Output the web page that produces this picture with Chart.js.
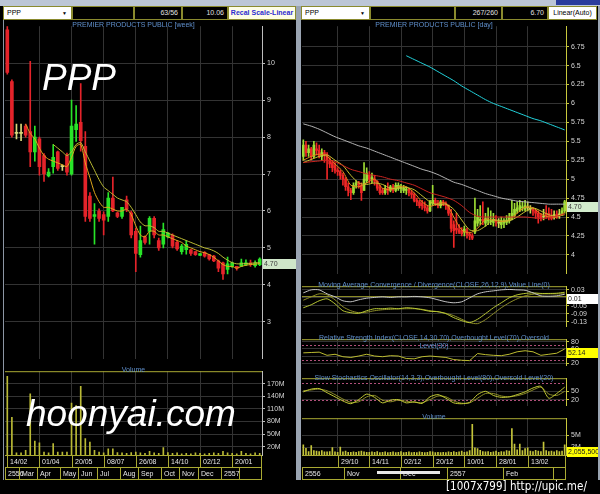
<!DOCTYPE html>
<html>
<head>
<meta charset="utf-8">
<script src="https://cdn.jsdelivr.net/npm/chart.js@4.4.1/dist/chart.umd.min.js"></script>
<style>
  html, body { margin: 0; padding: 0; background: #000; }
  #wrap { position: relative; width: 600px; height: 494px; background: #000; overflow: hidden; font-family: "Liberation Sans", Arial, sans-serif; }
  #wrap canvas { position: absolute; }
  .abs { position: absolute; }
  .hb { position: absolute; top: 6px; height: 14px; box-sizing: border-box; border: 1px solid #8a8a2e; font-size: 7px; line-height: 12px; padding: 0 3px; color: #e0e0e0; background: #000; white-space: nowrap; overflow: hidden; }
  .ttl { position: absolute; color: #5f8fcc; font-size: 7px; text-align: center; white-space: nowrap; }
</style>
</head>
<body>
<div id="wrap">
  <div class="abs" style="left:0;top:0;width:600px;height:6px;background:#bcc6d6"></div>
  <div class="abs" style="left:556px;top:0;width:44px;height:5px;background:#2a3c9c"></div>

  <div class="hb" style="left:3px;width:69px;background:#fff;color:#000">PPP<span style="position:absolute;right:4px;font-size:5px">&#9660;</span></div>
  <div class="hb" style="left:72px;width:62px"></div>
  <div class="hb" style="left:134px;width:48px;text-align:right">63/56</div>
  <div class="hb" style="left:182px;width:46px;text-align:right">10.06</div>
  <div class="hb" style="left:228px;width:68px;background:#fdfde6;color:#2b2bd0;font-weight:bold;text-align:center;padding:0">Recal Scale-Linear</div>

  <div class="hb" style="left:301px;width:69px;background:#fff;color:#000">PPP<span style="position:absolute;right:4px;font-size:5px">&#9660;</span></div>
  <div class="hb" style="left:370px;width:85px"></div>
  <div class="hb" style="left:455px;width:47px;text-align:right">267/260</div>
  <div class="hb" style="left:502px;width:46px;text-align:right">6.70</div>
  <div class="hb" style="left:548px;width:49px;background:#fff;color:#000;text-align:center;padding:0">Linear(Auto)</div>

  <div class="abs" style="left:3px;top:20px;width:1px;height:460px;background:#8c96a4"></div>
  <div class="abs" style="left:296px;top:6px;width:5px;height:474px;background:#9aa4b2"></div>
  <div class="abs" style="left:598px;top:6px;width:2px;height:474px;background:#9aa4b2"></div>

  <canvas id="lp" width="291" height="345" style="left:5px;top:20px"></canvas>
  <canvas id="lv" width="291" height="116" style="left:5px;top:365px"></canvas>
  <canvas id="rp" width="296" height="260" style="left:302px;top:20px"></canvas>
  <canvas id="rm" width="296" height="53" style="left:302px;top:280px"></canvas>
  <canvas id="rr" width="296" height="39" style="left:302px;top:333px"></canvas>
  <canvas id="rs" width="296" height="40" style="left:302px;top:372px"></canvas>
  <canvas id="rv" width="296" height="69" style="left:302px;top:412px"></canvas>

  <div class="ttl" style="left:5px;top:21px;width:257px">PREMIER PRODUCTS PUBLIC [week]</div>
  <div class="ttl" style="left:5px;top:366px;width:257px">Volume</div>
  <div class="ttl" style="left:302px;top:21px;width:264px">PREMIER PRODUCTS PUBLIC [day]</div>
  <div class="ttl" style="left:302px;top:281px;width:264px">Moving Average Convergence / Divergence(CLOSE,26,12,9),Value Line(0)</div>
  <div class="ttl" style="left:302px;top:334px;width:264px;line-height:8px">Relative Strength Index(CLOSE,14,30,70),Overbought Level(70),Oversold<br>Level(30)</div>
  <div class="ttl" style="left:302px;top:374px;width:264px">Slow Stochastics Oscillator(14,3,3),Overbought Level(80),Oversold Level(20)</div>
  <div class="ttl" style="left:302px;top:413px;width:264px">Volume</div>

  <div class="abs" style="left:42px;top:58px;color:#fff;font-size:37px;font-style:italic;line-height:40px">PPP</div>
  <div class="abs" style="left:26px;top:392px;color:#fff;font-size:37px;font-style:italic;line-height:44px">hoonyai.com</div>

  <div class="abs" style="left:377px;top:471px;width:63px;height:3px;background:#e8e8e8"></div>
  <div class="abs" style="left:446px;top:478px;color:#fff;font-family:'DejaVu Sans';font-size:13px;white-space:nowrap;transform:scaleX(0.8);transform-origin:left top">[1007x799] http://upic.me/</div>
</div>

<script>
// ---- weekly (left panel) ----
const wOpen  = [10.9, 9.5, 8.1, 8.1, 8.3, 8.15, 7.6, 7.95, 7.5, 6.95,
                7.2, 7.6, 7.2, 7.5, 7.0, 8.2, 8.4, 7.75, 6.4, 5.85,
                6.0, 5.9, 5.85, 6.35, 5.95, 5.85, 6.3, 5.95, 5.45, 4.82,
                5.3, 5.45, 5.8, 5.2, 5.1, 5.3, 5.35, 5.15, 4.9, 4.95,
                4.95, 4.9, 4.8, 4.88, 4.82, 4.78, 4.65, 4.6, 4.42, 4.5,
                4.5, 4.5, 4.55, 4.6, 4.52, 4.55];
const wHigh  = [11.0, 9.55, 8.35, 8.35, 8.35, 10.05, 8.3, 8.0, 7.55, 7.15,
                7.8, 7.62, 7.25, 7.57, 9.0, 8.85, 9.45, 8.15, 6.5, 6.2,
                6.06, 5.98, 6.5, 6.92, 5.97, 6.1, 6.4, 6.0, 5.53, 5.59,
                5.33, 5.85, 5.85, 5.27, 5.67, 5.42, 5.38, 5.2, 5.1, 5.2,
                4.96, 4.9, 4.85, 4.9, 4.83, 4.8, 4.67, 4.62, 4.75, 4.62,
                4.5, 4.7, 4.68, 4.67, 4.65, 4.73];
const wLow   = [9.7, 8.0, 7.95, 7.9, 8.0, 7.2, 7.35, 6.97, 6.8, 6.92,
                7.02, 7.1, 7.1, 6.97, 6.97, 7.88, 7.62, 5.72, 5.72, 5.1,
                5.72, 5.35, 5.72, 5.98, 5.82, 5.8, 5.98, 5.27, 4.36, 4.75,
                5.1, 5.1, 5.27, 4.93, 5.0, 5.27, 5.0, 4.93, 4.83, 4.83,
                4.8, 4.8, 4.8, 4.75, 4.67, 4.63, 4.36, 4.15, 4.3, 4.47,
                4.4, 4.5, 4.52, 4.5, 4.48, 4.52];
const wClose = [9.75, 8.05, 8.1, 8.1, 8.05, 7.6, 8.0, 7.2, 7.0, 7.05,
                7.45, 7.15, 7.2, 7.05, 8.3, 8.35, 7.9, 5.85, 5.8, 5.9,
                5.8, 5.75, 6.35, 6.0, 5.85, 6.1, 6.05, 5.35, 4.85, 5.2,
                5.15, 5.8, 5.35, 5.0, 5.5, 5.4, 5.05, 4.97, 5.05, 5.1,
                4.85, 4.82, 4.85, 4.78, 4.7, 4.65, 4.45, 4.3, 4.57, 4.6,
                4.45, 4.6, 4.6, 4.55, 4.58, 4.7];
const wMaFast = [null, null, null, null, 8.35, 8.1, 7.95, 7.7, 7.5, 7.4,
                 7.35, 7.3, 7.25, 7.2, 7.45, 7.75, 7.8, 7.3, 6.9, 6.5,
                 6.25, 6.1, 6.1, 6.05, 6.0, 6.0, 6.05, 5.9, 5.6, 5.35,
                 5.3, 5.45, 5.45, 5.35, 5.35, 5.3, 5.25, 5.2, 5.15, 5.05,
                 5.0, 4.95, 4.9, 4.87, 4.82, 4.75, 4.65, 4.55, 4.5, 4.5,
                 4.45, 4.5, 4.53, 4.55, 4.56, 4.58];
const wMaSlow = [null, null, null, null, null, null, null, null, null, null,
                 7.8, 7.7, 7.6, 7.5, 7.6, 7.8, 7.85, 7.6, 7.35, 7.1,
                 6.85, 6.65, 6.55, 6.45, 6.35, 6.3, 6.25, 6.1, 5.9, 5.7,
                 5.6, 5.6, 5.55, 5.45, 5.45, 5.4, 5.35, 5.3, 5.25, 5.2,
                 5.15, 5.1, 5.05, 5.0, 4.97, 4.92, 4.85, 4.75, 4.67, 4.6,
                 4.57, 4.57, 4.58, 4.58, 4.6, 4.6];
const wVol = [188, 90, 5, 5, 11, 146, 33, 29, 7, 5,
              27, 7, 7, 7, 124, 118, 164, 39, 31, 11,
              7, 5, 15, 15, 6, 5, 4, 6, 7, 5,
              4, 9, 5, 4, 18, 6, 4, 5, 3, 4,
              3, 5, 4, 3, 4, 5, 4, 9, 5, 4,
              3, 9, 4, 3, 5, 4];
const wDateIdx = [0, 7, 14, 21, 28, 35, 42, 49];
const wDateLbl = ['14/02', '01/04', '20/05', '08/07', '26/08', '14/10', '02/12', '20/01'];
const wMonIdx = [0, 3, 7, 12, 16, 20, 25, 29, 34, 38, 42, 47, 51];
const wMonLbl = ['2556', 'Mar', 'Apr', 'May', 'Jun', 'Jul', 'Aug', 'Sep', 'Oct', 'Nov', 'Dec', '2557', ''];
const wPriceTicks = [3, 4, 5, 6, 7, 8, 9, 10];
const wVolTicks = [20, 50, 80, 110, 140, 170];

// ---- daily (right panel) ----
const dOpen  = [5.30, 5.45, 5.35, 5.40, 5.30, 5.40, 5.38, 5.30, 5.35, 5.32,
                5.25, 5.22, 5.18, 5.12, 5.10, 5.05, 5.00, 4.90, 4.85, 4.82,
                4.92, 4.95, 4.92, 4.85, 4.98, 5.05, 5.00, 5.00, 4.97, 4.90,
                4.85, 4.82, 4.88, 4.85, 4.90, 4.85, 4.88, 4.88, 4.85, 4.85,
                4.87, 4.82, 4.80, 4.72, 4.70, 4.68, 4.65, 4.62, 4.58, 4.68,
                4.72, 4.68, 4.65, 4.70, 4.68, 4.65, 4.55, 4.40, 4.35, 4.33,
                4.32, 4.30, 4.32, 4.27, 4.25, 4.30, 4.42, 4.45, 4.47, 4.42,
                4.45, 4.44, 4.43, 4.45, 4.42, 4.40, 4.42, 4.43, 4.45, 4.48,
                4.52, 4.58, 4.60, 4.62, 4.60, 4.62, 4.60, 4.60, 4.58, 4.55,
                4.52, 4.50, 4.55, 4.55, 4.52, 4.52, 4.54, 4.53, 4.55, 4.58];
const dHigh  = [5.52, 5.50, 5.45, 5.42, 5.50, 5.48, 5.45, 5.40, 5.38, 5.35,
                5.28, 5.25, 5.22, 5.15, 5.12, 5.08, 5.02, 4.95, 4.88, 4.95,
                4.98, 4.97, 4.95, 5.22, 5.15, 5.10, 5.08, 5.05, 4.98, 4.92,
                4.88, 4.92, 4.95, 4.92, 4.93, 4.95, 4.95, 4.93, 4.92, 4.90,
                4.88, 4.85, 4.82, 4.75, 4.72, 4.72, 4.70, 4.65, 4.72, 4.92,
                4.75, 4.72, 4.72, 4.72, 4.70, 4.66, 4.60, 4.45, 4.55, 4.40,
                4.36, 4.38, 4.35, 4.30, 4.28, 4.75, 4.60, 4.65, 4.70, 4.55,
                4.62, 4.58, 4.55, 4.52, 4.48, 4.50, 4.48, 4.52, 4.55, 4.72,
                4.68, 4.70, 4.72, 4.70, 4.72, 4.70, 4.65, 4.62, 4.60, 4.58,
                4.55, 4.60, 4.65, 4.62, 4.60, 4.58, 4.58, 4.60, 4.62, 4.72];
const dLow   = [5.25, 5.30, 5.30, 5.25, 5.28, 5.32, 5.28, 5.25, 5.22, 5.00,
                5.15, 5.10, 5.08, 5.05, 5.00, 4.92, 4.85, 4.78, 4.73, 4.80,
                4.88, 4.88, 4.72, 4.85, 4.95, 4.95, 4.95, 4.92, 4.85, 4.80,
                4.80, 4.80, 4.80, 4.83, 4.82, 4.83, 4.85, 4.82, 4.82, 4.80,
                4.78, 4.75, 4.70, 4.65, 4.62, 4.60, 4.58, 4.55, 4.57, 4.65,
                4.65, 4.62, 4.62, 4.65, 4.60, 4.52, 4.30, 4.10, 4.28, 4.28,
                4.25, 4.25, 4.22, 4.20, 4.20, 4.28, 4.38, 4.40, 4.40, 4.38,
                4.40, 4.40, 4.38, 4.38, 4.36, 4.35, 4.36, 4.40, 4.42, 4.46,
                4.50, 4.55, 4.57, 4.58, 4.58, 4.58, 4.55, 4.52, 4.48, 4.42,
                4.45, 4.46, 4.48, 4.46, 4.46, 4.47, 4.48, 4.48, 4.52, 4.55];
const dClose = [5.45, 5.35, 5.40, 5.30, 5.45, 5.38, 5.30, 5.35, 5.32, 5.25,
                5.20, 5.15, 5.12, 5.10, 5.05, 5.00, 4.90, 4.85, 4.82, 4.92,
                4.95, 4.92, 4.82, 5.00, 5.08, 5.00, 5.02, 4.97, 4.88, 4.82,
                4.82, 4.88, 4.85, 4.90, 4.85, 4.92, 4.92, 4.90, 4.88, 4.87,
                4.82, 4.80, 4.72, 4.70, 4.65, 4.65, 4.62, 4.58, 4.70, 4.72,
                4.68, 4.65, 4.70, 4.68, 4.65, 4.55, 4.35, 4.32, 4.33, 4.30,
                4.28, 4.34, 4.27, 4.25, 4.22, 4.45, 4.50, 4.47, 4.45, 4.48,
                4.46, 4.45, 4.47, 4.44, 4.42, 4.43, 4.45, 4.46, 4.50, 4.55,
                4.60, 4.62, 4.65, 4.63, 4.65, 4.62, 4.60, 4.58, 4.55, 4.50,
                4.48, 4.50, 4.52, 4.50, 4.48, 4.52, 4.50, 4.53, 4.58, 4.70];
const dVol = [2.6, 1.7, 0.9, 2.4, 1.1, 1.0, 0.9, 1.1, 0.8, 0.8,
              0.9, 1.9, 0.8, 0.7, 2.0, 0.8, 1.0, 0.7, 0.7, 0.8,
              0.7, 0.9, 1.0, 0.8, 0.7, 0.7, 0.8, 0.7, 0.9, 0.6,
              0.7, 0.8, 0.6, 0.7, 0.8, 0.6, 0.7, 0.9, 0.6, 0.7,
              0.8, 0.6, 0.7, 0.6, 0.8, 0.7, 0.6, 0.7, 0.9, 0.8,
              0.6, 0.7, 0.6, 0.7, 0.6, 0.8, 0.7, 0.9, 0.7, 0.8,
              1.0, 0.7, 0.8, 1.1, 7.8, 1.8, 1.6, 1.2, 0.9, 0.8,
              0.9, 0.7, 0.8, 1.0, 0.7, 0.9, 0.8, 1.1, 1.0, 6.7,
              2.8, 1.3, 2.8, 1.1, 1.6, 1.8, 1.0, 0.9, 1.2, 1.0,
              0.9, 3.3, 1.1, 0.9, 1.0, 0.8, 1.1, 0.9, 1.0, 2.6];

// indicator lines read every 3rd day
const dIdx = [0, 3, 6, 9, 12, 15, 18, 21, 24, 27, 30, 33, 36, 39, 42, 45, 48,
              51, 54, 57, 60, 63, 66, 69, 72, 75, 78, 81, 84, 87, 90, 93, 96, 99];
const dMa5   = [5.25, 5.3, 5.33, 5.3, 5.2, 5.1, 4.92, 4.9, 4.95, 5.0, 4.88, 4.86, 4.9, 4.9, 4.82, 4.7, 4.64,
                4.68, 4.68, 4.5, 4.33, 4.29, 4.35, 4.47, 4.46, 4.44, 4.46, 4.55, 4.63, 4.62, 4.54, 4.5, 4.5, 4.56];
const dMa10  = [5.22, 5.26, 5.3, 5.32, 5.25, 5.18, 5.05, 4.95, 4.93, 4.95, 4.93, 4.88, 4.88, 4.89, 4.86, 4.78, 4.7,
                4.66, 4.67, 4.6, 4.46, 4.33, 4.32, 4.38, 4.46, 4.45, 4.45, 4.5, 4.57, 4.62, 4.58, 4.53, 4.51, 4.53];
const dMa25  = [5.22, 5.23, 5.24, 5.25, 5.23, 5.18, 5.13, 5.1, 5.07, 5.05, 5.03, 5.0, 4.98, 4.95, 4.92, 4.87, 4.82,
                4.79, 4.76, 4.72, 4.65, 4.56, 4.51, 4.5, 4.5, 4.5, 4.5, 4.5, 4.5, 4.49, 4.48, 4.49, 4.51, 4.54];
const dMa75  = [5.73, 5.7, 5.66, 5.61, 5.56, 5.52, 5.48, 5.44, 5.41, 5.37, 5.33, 5.29, 5.25, 5.21, 5.17, 5.13, 5.1,
                5.06, 5.01, 4.96, 4.93, 4.89, 4.85, 4.81, 4.78, 4.75, 4.73, 4.71, 4.7, 4.69, 4.68, 4.67, 4.67, 4.67];
const dMa200 = [null, null, null, null, null, null, null, null, null, null, null, null, null, 6.63, 6.58, 6.53, 6.48,
                6.42, 6.36, 6.3, 6.23, 6.17, 6.11, 6.05, 6.0, 5.96, 5.92, 5.88, 5.84, 5.8, 5.77, 5.73, 5.69, 5.65];
const macdA  = [-0.06, -0.045, -0.025, -0.015, -0.04, -0.075, -0.085, -0.088, -0.075, -0.065, -0.065, -0.062, -0.065, -0.06, -0.063, -0.07, -0.078,
                -0.08, -0.09, -0.11, -0.125, -0.135, -0.118, -0.09, -0.06, -0.035, -0.01, 0.005, 0.012, 0.015, 0.012, 0.012, 0.013, 0.018];
const macdB  = [-0.022, -0.005, 0.01, 0.005, -0.02, -0.055, -0.075, -0.085, -0.082, -0.075, -0.07, -0.068, -0.066, -0.065, -0.065, -0.068, -0.075,
                -0.08, -0.088, -0.1, -0.118, -0.135, -0.14, -0.12, -0.09, -0.06, -0.035, -0.015, 0.0, 0.008, 0.01, 0.01, 0.01, 0.01];
const macdW  = [0.015, 0.03, 0.03, 0.01, -0.005, -0.025, -0.03, -0.02, -0.012, -0.008, -0.005, -0.008, -0.005, -0.005, -0.003, -0.005, -0.01,
                -0.02, -0.03, -0.035, -0.03, -0.01, 0.01, 0.02, 0.025, 0.03, 0.032, 0.03, 0.028, 0.015, 0.0, -0.002, 0.0, 0.008];
const rsi    = [49, 50, 51, 42, 45, 38, 36, 40, 45, 40, 38, 41, 40, 33, 32, 38, 40,
                38, 36, 30, 28, 27, 47, 44, 42, 41, 45, 52, 55, 52, 42, 45, 48, 60];
const stochK = [48, 58, 60, 45, 30, 15, 5, 20, 40, 28, 8, 18, 20, 8, 12, 6, 30,
                38, 25, 8, 5, 10, 38, 50, 35, 28, 30, 38, 48, 62, 68, 25, 42, 65];
const stochD = [52, 55, 58, 52, 38, 22, 10, 12, 30, 35, 18, 12, 18, 14, 10, 9, 20,
                33, 30, 15, 7, 8, 25, 42, 42, 33, 30, 34, 42, 55, 65, 40, 35, 50];

const dDateIdx = [13, 25, 37, 49, 61, 73, 85];
const dDateLbl = ['29/10', '14/11', '02/12', '20/12', '10/01', '28/01', '13/02'];
const dMonIdx = [0, 16, 37, 55, 76, 95];
const dMonLbl = ['2556', 'Nov', 'Dec', '2557', 'Feb', ''];
const dPriceTicks = [4, 4.25, 4.5, 4.75, 5, 5.25, 5.5, 5.75, 6, 6.25, 6.5, 6.75];
const macdTicks = [0.03, -0.01, -0.05, -0.09, -0.13];
const rsiTicks = [20, 40, 60, 80];
const stochTicks = [20, 50];
const dVolTicks = [2, 5];

const FONT = '"Liberation Sans", Arial, sans-serif';
Chart.defaults.font.family = FONT;
Chart.defaults.font.size = 7;
Chart.defaults.color = '#d6d6d6';

// date / month boxes under the volume panels
const rowsPlugin = {
  id: 'rows',
  afterDraw(chart, args, o) {
    if (!o.dIdx) return;
    const ctx = chart.ctx, a = chart.chartArea, x = chart.scales.x;
    const half = (x.getPixelForValue(1) - x.getPixelForValue(0)) / 2;
    const top = Math.round(a.bottom) + 0.5, mid = top + 12, bot = top + 24;
    ctx.save();
    ctx.strokeStyle = '#a9a933';
    ctx.lineWidth = 1;
    ctx.beginPath();
    [top, mid, bot].forEach(yy => { ctx.moveTo(a.left, yy); ctx.lineTo(a.right, yy); });
    ctx.moveTo(a.right - 0.5, top); ctx.lineTo(a.right - 0.5, bot);
    ctx.moveTo(a.left + 0.5, mid); ctx.lineTo(a.left + 0.5, bot);
    o.dIdx.forEach(v => { const px = Math.round(x.getPixelForValue(v)) + 0.5; ctx.moveTo(px, top); ctx.lineTo(px, mid); });
    o.mIdx.forEach(v => { const px = Math.round(x.getPixelForValue(v) - half) + 0.5; ctx.moveTo(px, mid); ctx.lineTo(px, bot); });
    ctx.stroke();
    ctx.fillStyle = '#e6e6e6';
    ctx.font = '7px ' + FONT;
    ctx.textBaseline = 'middle';
    o.dIdx.forEach((v, k) => ctx.fillText(o.dLbl[k], Math.round(x.getPixelForValue(v)) + 3, top + 6.5));
    o.mIdx.forEach((v, k) => ctx.fillText(o.mLbl[k], Math.round(x.getPixelForValue(v) - half) + 3, mid + 6.5));
    ctx.restore();
  }
};

// last-value box on the right axis
const boxPlugin = {
  id: 'vbox',
  afterDraw(chart, args, o) {
    if (!o.text) return;
    const ctx = chart.ctx, a = chart.chartArea;
    const py = Math.round(chart.scales.y.getPixelForValue(o.value)) + (o.dy || 0);
    ctx.save();
    ctx.fillStyle = o.bg;
    ctx.fillRect(a.right + 1, py, o.w, 10);
    ctx.fillStyle = o.fg;
    ctx.font = '7px ' + FONT;
    ctx.textBaseline = 'middle';
    ctx.fillText(o.text, a.right + 2, py + 5.5);
    ctx.restore();
  }
};

// overbought / oversold / zero lines
const levelPlugin = {
  id: 'levels',
  beforeDatasetsDraw(chart, args, o) {
    if (!o.values) return;
    const ctx = chart.ctx, a = chart.chartArea;
    ctx.save();
    ctx.strokeStyle = o.color;
    ctx.lineWidth = 1;
    if (o.dashed) ctx.setLineDash([2, 2]);
    ctx.beginPath();
    o.values.forEach(v => {
      const py = Math.round(chart.scales.y.getPixelForValue(v)) + 0.5;
      ctx.moveTo(a.left, py); ctx.lineTo(a.right, py);
    });
    ctx.stroke();
    ctx.restore();
  }
};

// yellow separator on top of a panel
const edgePlugin = {
  id: 'edge',
  afterDraw(chart, args, o) {
    if (!o.color) return;
    const ctx = chart.ctx, a = chart.chartArea;
    ctx.save();
    ctx.strokeStyle = o.color;
    ctx.beginPath();
    ctx.moveTo(a.left, a.top + 0.5); ctx.lineTo(a.right, a.top + 0.5);
    ctx.stroke();
    ctx.restore();
  }
};

Chart.register(rowsPlugin, boxPlugin, levelPlugin, edgePlugin);

function spread(idx, vals, n) {
  const out = new Array(n).fill(null);
  idx.forEach((k, j) => { out[k] = vals[j]; });
  return out;
}

function candles(o, h, l, c, up, dn, dj, bw) {
  const col = c.map((v, i) => v > o[i] ? up : (v < o[i] ? dn : dj));
  return [
    { type: 'bar', data: l.map((v, i) => [v, h[i]]), backgroundColor: col, barThickness: 1, grouped: false, order: 2 },
    { type: 'bar', data: o.map((v, i) => [v, c[i]]), backgroundColor: col, barThickness: bw, minBarLength: 1, grouped: false, order: 1 }
  ];
}

function line(data, color, tension) {
  return { type: 'line', data: data, borderColor: color, borderWidth: 1, pointRadius: 0,
           tension: tension === undefined ? 0.25 : tension, spanGaps: true, order: 0 };
}

function opts(p) {
  return {
    responsive: false,
    animation: false,
    devicePixelRatio: 1,
    layout: { padding: 0 },
    events: [],
    plugins: Object.assign({ legend: { display: false }, tooltip: { enabled: false } }, p.plugins || {}),
    scales: {
      x: {
        type: 'category', offset: true,
        ticks: { display: false },
        border: { display: false },
        grid: { offset: false, color: '#333', drawTicks: false },
        afterBuildTicks: s => { s.ticks = p.grid.map(v => ({ value: v })); },
        afterFit: s => { s.height = p.xh || 0; }
      },
      y: {
        position: 'right', min: p.min, max: p.max,
        afterBuildTicks: s => { s.ticks = p.ticks.map(v => ({ value: v })); },
        afterFit: s => { s.width = p.yw; },
        ticks: { color: '#d6d6d6', padding: 2, autoSkip: false, callback: p.fmt || (v => String(v)) },
        grid: { color: '#333', drawTicks: true, tickLength: 3, tickColor: p.axis },
        border: { display: true, color: p.axis }
      }
    }
  };
}

const wLabels = wOpen.map((_, i) => String(i));
const dLabels = dOpen.map((_, i) => String(i));
const N = dOpen.length;
const wGrid = wDateIdx.slice(1);

new Chart(document.getElementById('lp'), {
  type: 'bar',
  data: {
    labels: wLabels,
    datasets: [
      line(wMaFast, '#e0a81c'),
      line(wMaSlow, '#bcbc34'),
      ...candles(wOpen, wHigh, wLow, wClose, '#28e428', '#e4232a', '#d8d87c', 3)
    ]
  },
  options: opts({ grid: wGrid, min: 2, max: 11, ticks: wPriceTicks, yw: 34, axis: '#bdbdbd',
    plugins: { vbox: { value: 4.7, text: '4.70', bg: '#cfe6c9', fg: '#404040', w: 33 } } })
});

new Chart(document.getElementById('lv'), {
  type: 'bar',
  data: {
    labels: wLabels,
    datasets: [{ data: wVol, backgroundColor: '#b9b935', barThickness: 1 }]
  },
  options: opts({ grid: wGrid, min: 0, max: 200, ticks: wVolTicks, yw: 34, axis: '#bdbdbd', xh: 26,
    fmt: v => v + 'M',
    plugins: { rows: { dIdx: wDateIdx, dLbl: wDateLbl, mIdx: wMonIdx, mLbl: wMonLbl }, edge: { color: '#a9a933' } } })
});

new Chart(document.getElementById('rp'), {
  type: 'bar',
  data: {
    labels: dLabels,
    datasets: [
      line(spread(dIdx, dMa200, N), '#22d3dc'),
      line(spread(dIdx, dMa75, N), '#b4b4b4'),
      line(spread(dIdx, dMa25, N), '#cc2420'),
      line(spread(dIdx, dMa10, N), '#c8c230'),
      line(spread(dIdx, dMa5, N), '#e48a1c'),
      ...candles(dOpen, dHigh, dLow, dClose, '#9edc34', '#ee2626', '#c8d850', 2)
    ]
  },
  options: opts({ grid: dDateIdx, min: 3.75, max: 7.02, ticks: dPriceTicks, yw: 32, axis: '#c8c83c',
    plugins: { vbox: { value: 4.7, text: '4.70', bg: '#d2eccd', fg: '#404040', w: 31 } } })
});

new Chart(document.getElementById('rm'), {
  type: 'line',
  data: {
    labels: dLabels,
    datasets: [
      line(spread(dIdx, macdW, N), '#c4c4c4'),
      line(spread(dIdx, macdA, N), '#b9c834'),
      line(spread(dIdx, macdB, N), '#8e8e28')
    ]
  },
  options: opts({ grid: dDateIdx, min: -0.156, max: 0.0485, ticks: macdTicks, yw: 32, axis: '#c8c83c',
    plugins: { levels: { values: [0], color: '#8a8a26' }, edge: { color: '#a9a933' },
               vbox: { value: 0.01, text: '0.01', bg: '#ffffff', fg: '#202020', w: 31 } } })
});

new Chart(document.getElementById('rr'), {
  type: 'line',
  data: {
    labels: dLabels,
    datasets: [line(spread(dIdx, rsi, N), '#bcbc30', 0)]
  },
  options: opts({ grid: dDateIdx, min: 12.3, max: 87.7, ticks: rsiTicks, yw: 32, axis: '#c8c83c',
    plugins: { levels: { values: [70, 30], color: '#b0507a', dashed: true }, edge: { color: '#a9a933' },
               vbox: { value: 52.14, text: '52.14', bg: '#ffff00', fg: '#202020', w: 31, dy: -4 } } })
});

new Chart(document.getElementById('rs'), {
  type: 'line',
  data: {
    labels: dLabels,
    datasets: [
      line(spread(dIdx, stochK, N), '#c0c834'),
      line(spread(dIdx, stochD, N), '#8e8e28')
    ]
  },
  options: opts({ grid: dDateIdx, min: -2.5, max: 97.5, ticks: stochTicks, yw: 32, axis: '#c8c83c',
    plugins: { levels: { values: [80, 20], color: '#b0507a', dashed: true }, edge: { color: '#a9a933' } } })
});

new Chart(document.getElementById('rv'), {
  type: 'bar',
  data: {
    labels: dLabels,
    datasets: [{ data: dVol, backgroundColor: '#c4c43a', barThickness: 1 }]
  },
  options: opts({ grid: dDateIdx, min: 0, max: 9.35, ticks: dVolTicks, yw: 32, axis: '#c8c83c', xh: 26,
    fmt: v => v + 'M',
    plugins: { rows: { dIdx: dDateIdx, dLbl: dDateLbl, mIdx: dMonIdx, mLbl: dMonLbl }, edge: { color: '#a9a933' },
               vbox: { value: 2.0555, text: '2,055,500', bg: '#ffff00', fg: '#202020', w: 33 } } })
});
</script>
</body>
</html>
